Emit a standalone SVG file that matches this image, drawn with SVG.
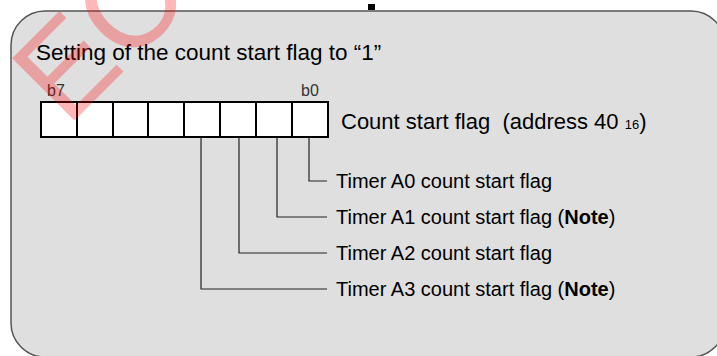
<svg xmlns="http://www.w3.org/2000/svg" width="717" height="356" viewBox="0 0 717 356">
  <style>
    .t { font-family: "Liberation Sans", Arial, sans-serif; fill: #000; }
    .title { font-size: 22.5px; }
    .cnt { font-size: 22px; }
    .lbl { font-size: 20px; }
    .bit { font-size: 16px; fill: #333; }
    .cell { fill: #fff; stroke: #000; stroke-width: 2; }
    .conn { fill: none; stroke: #222; stroke-width: 1.2; }
  </style>
  <rect x="0" y="0" width="717" height="356" fill="#fff"/>
  <rect x="368" y="4" width="7" height="6" fill="#000"/>
  <rect id="frame" x="11" y="11" width="714" height="346" rx="34" ry="34" fill="#dfdfdf" stroke="#555" stroke-width="1.5"/>

  <text class="t title" x="36" y="60">Setting of the count start flag to “1”</text>

  <g id="register">
    <rect class="cell" x="41" y="102" width="36" height="35"/>
    <rect class="cell" x="77" y="102" width="36" height="35"/>
    <rect class="cell" x="113" y="102" width="35" height="35"/>
    <rect class="cell" x="148" y="102" width="36" height="35"/>
    <rect class="cell" x="184" y="102" width="36" height="35"/>
    <rect class="cell" x="220" y="102" width="36" height="35"/>
    <rect class="cell" x="256" y="102" width="36" height="35"/>
    <rect class="cell" x="292" y="102" width="36" height="35"/>
    <text class="t bit" x="47" y="96">b7</text>
    <text class="t bit" x="301" y="96">b0</text>
    <text class="t cnt" x="341" y="129" xml:space="preserve">Count start flag  (address 40 <tspan font-size="13">16</tspan>)</text>
  </g>

  <g id="connectors">
    <polyline class="conn" points="309,137 309,181 327,181"/>
    <polyline class="conn" points="277,137 277,217 327,217"/>
    <polyline class="conn" points="239,137 239,253 327,253"/>
    <polyline class="conn" points="201,137 201,289 327,289"/>
  </g>

  <g id="timerA0"><text class="t lbl" x="336" y="188">Timer A0 count start flag</text></g>
  <g id="timerA1"><text class="t lbl" x="336" y="224">Timer A1 count start flag (<tspan font-weight="bold">Note</tspan>)</text></g>
  <g id="timerA2"><text class="t lbl" x="336" y="260">Timer A2 count start flag</text></g>
  <g id="timerA3"><text class="t lbl" x="336" y="296">Timer A3 count start flag (<tspan font-weight="bold">Note</tspan>)</text></g>

  <text x="67" y="128" transform="rotate(-45 67 128)" font-family="Liberation Sans, Arial, sans-serif" font-size="128" fill="#ff0000" opacity="0.28">EC</text>
</svg>
